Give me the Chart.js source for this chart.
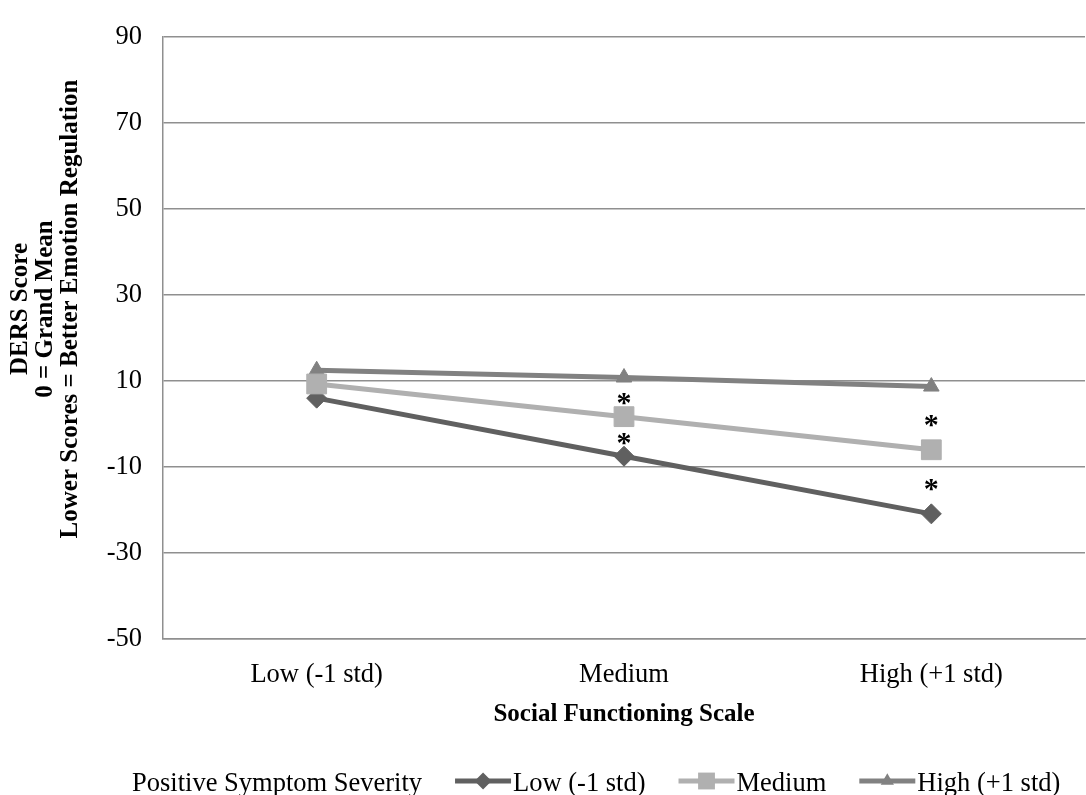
<!DOCTYPE html>
<html>
<head>
<meta charset="utf-8">
<title>DERS Score by Social Functioning</title>
<script src="https://cdn.jsdelivr.net/npm/chart.js"></script>
<style>
    html, body { margin: 0; padding: 0; background: #fff; overflow: hidden; }
    #wrap { position: relative; width: 1100px; height: 795px; }
</style>
</head>
<body>
<div id="wrap"><canvas id="chart"></canvas></div>
<script>
const categories = ['Low (-1 std)', 'Medium', 'High (+1 std)'];
const lowSeverity = [6.0, -7.5, -20.9];
const mediumSeverity = [9.3, 1.7, -6.0];
const highSeverity = [12.5, 10.8, 8.7];
// significance stars, placed in data units (null = no star)
const starsUpper = [null, 5.9, 0.8];
const starsLower = [null, -3.5, -14.1];
const yMin = -50;
const yMax = 90;
const yStep = 20;

const seriesNames = ['Low (-1 std)', 'Medium', 'High (+1 std)'];
const legendTitle = 'Positive Symptom Severity';
const xTitle = 'Social Functioning Scale';
const yTitle = ['DERS Score', '0 = Grand Mean', 'Lower Scores = Better Emotion Regulation'];

const SERIF = '"Liberation Serif", "Times New Roman", serif';
const GRID = '#8f8f8f';
const FONT_SIZE = 26.5;

function drawMarker(ctx, style, x, y, r) {
    ctx.beginPath();
    if (style === 'rectRot') {
        ctx.moveTo(x, y - r);
        ctx.lineTo(x + r, y);
        ctx.lineTo(x, y + r);
        ctx.lineTo(x - r, y);
    } else if (style === 'rect') {
        const h = r * Math.SQRT1_2;
        ctx.rect(x - h, y - h, 2 * h, 2 * h);
    } else {
        for (let k = 0; k < 3; k++) {
            const a = k * 2 * Math.PI / 3;
            const px = x + Math.sin(a) * r;
            const py = y - Math.cos(a) * r;
            k === 0 ? ctx.moveTo(px, py) : ctx.lineTo(px, py);
        }
    }
    ctx.closePath();
    ctx.fill();
}

const starsPlugin = {
    id: 'stars',
    afterDatasetsDraw(chart) {
        const ctx = chart.ctx;
        ctx.save();
        ctx.font = `bold 30px ${SERIF}`;
        ctx.fillStyle = '#000';
        ctx.textAlign = 'center';
        ctx.textBaseline = 'alphabetic';
        const m = ctx.measureText('*');
        const off = (m.actualBoundingBoxAscent - m.actualBoundingBoxDescent) / 2;
        chart.data.datasets.forEach((ds, i) => {
            if (!ds.stars) return;
            chart.getDatasetMeta(i).data.forEach((pt, j) => {
                if (ds.data[j] == null) return;
                ctx.fillText('*', pt.x, pt.y + off);
            });
        });
        ctx.restore();
    }
};

// three stacked, rotated lines like the original axis title
const yTitlePlugin = {
    id: 'yTitle',
    afterDraw(chart, args, opts) {
        const ctx = chart.ctx;
        ctx.save();
        ctx.font = `bold 25px ${SERIF}`;
        ctx.fillStyle = '#000';
        ctx.textAlign = 'center';
        ctx.textBaseline = 'middle';
        yTitle.forEach((line, i) => {
            ctx.save();
            ctx.translate(opts.x + i * opts.lineGap, opts.centerY);
            ctx.rotate(-Math.PI / 2);
            ctx.fillText(line, 0, 0);
            ctx.restore();
        });
        ctx.restore();
    }
};

const legendPlugin = {
    id: 'bottomLegend',
    afterDraw(chart, args, opts) {
        const ctx = chart.ctx;
        ctx.save();
        ctx.font = `${FONT_SIZE}px ${SERIF}`;
        ctx.textBaseline = 'alphabetic';
        ctx.fillStyle = '#000';
        let x = opts.left;
        ctx.fillText(legendTitle, x, opts.baseline);
        x += ctx.measureText(legendTitle).width + opts.gap;
        chart.data.datasets.filter(ds => !ds.stars).forEach(ds => {
            ctx.strokeStyle = ds.borderColor;
            ctx.lineWidth = ds.borderWidth;
            ctx.beginPath();
            ctx.moveTo(x, opts.lineY);
            ctx.lineTo(x + opts.lineLen, opts.lineY);
            ctx.stroke();
            ctx.fillStyle = ds.pointBackgroundColor;
            drawMarker(ctx, ds.pointStyle, x + opts.lineLen / 2, opts.lineY, ds.pointRadius * 0.85);
            x += opts.lineLen + 2;
            ctx.fillStyle = '#000';
            ctx.fillText(ds.label, x, opts.baseline);
            x += ctx.measureText(ds.label).width + opts.gap;
        });
        ctx.restore();
    }
};

function series(label, data, color, style, radius, order) {
    return {
        label,
        data,
        order,
        borderColor: color,
        backgroundColor: color,
        borderWidth: 5,
        borderJoinStyle: 'round',
        tension: 0,
        pointStyle: style,
        pointRadius: radius,
        pointHoverRadius: radius,
        pointBackgroundColor: color,
        pointBorderColor: color,
        pointBorderWidth: 1
    };
}

function starSet(data) {
    return { stars: true, data, showLine: false, pointRadius: 0, pointHoverRadius: 0, pointHitRadius: 0, order: 9 };
}

new Chart(document.getElementById('chart'), {
    type: 'line',
    data: {
        labels: categories,
        datasets: [
            series(seriesNames[0], lowSeverity, '#606060', 'rectRot', 10, 1),
            series(seriesNames[1], mediumSeverity, '#b0b0b0', 'rect', 14, 0),
            series(seriesNames[2], highSeverity, '#818181', 'triangle', 9, 2),
            starSet(starsUpper),
            starSet(starsLower)
        ]
    },
    options: {
        responsive: true,
        maintainAspectRatio: false,
        animation: false,
        layout: { padding: { top: 33, right: 5, bottom: 65, left: 0 } },
        plugins: {
            legend: { display: false },
            tooltip: { enabled: false },
            yTitle: { x: 21, lineGap: 25, centerY: 309 },
            bottomLegend: { left: 132, baseline: 791, lineY: 781, lineLen: 56, gap: 33 }
        },
        scales: {
            x: {
                offset: true,
                grid: { display: false, drawTicks: false },
                border: { display: true, color: GRID, width: 1.5 },
                ticks: { color: '#000', font: { family: SERIF, size: FONT_SIZE }, padding: 20 },
                title: {
                    display: true,
                    text: xTitle,
                    color: '#000',
                    font: { family: SERIF, size: 25, weight: 'bold', lineHeight: 1.2 },
                    padding: { top: 0, bottom: 0 }
                },
                afterFit: scale => { scale.height = 91; }
            },
            y: {
                min: yMin,
                max: yMax,
                grid: { color: GRID, lineWidth: 1.5, drawTicks: false },
                border: { display: true, color: GRID, width: 1.5 },
                ticks: { stepSize: yStep, color: '#000', font: { family: SERIF, size: FONT_SIZE }, padding: 21 },
                title: { display: false },
                afterFit: scale => { scale.width = 163; }
            }
        }
    },
    plugins: [starsPlugin, yTitlePlugin, legendPlugin]
});
</script>
</body>
</html>
